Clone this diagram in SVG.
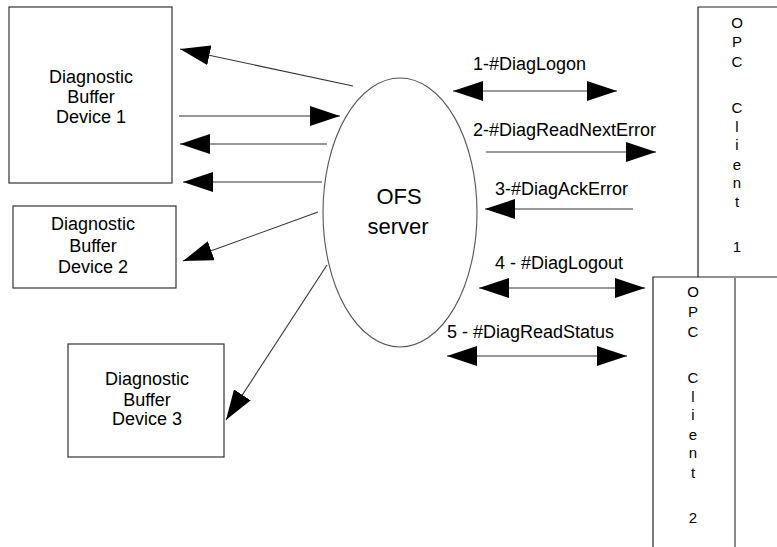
<svg xmlns="http://www.w3.org/2000/svg" width="777" height="547" viewBox="0 0 777 547">
<defs>
<marker id="ah" viewBox="0 0 30 20" refX="30" refY="10" markerWidth="30" markerHeight="20" markerUnits="userSpaceOnUse" orient="auto-start-reverse">
<path d="M0,0 L30,10 L0,20 z" fill="#000"/>
</marker>
<style>
.box{fill:#fff;stroke:#333;stroke-width:1.2}
.lbl{font-family:"Liberation Sans",Arial,sans-serif;font-size:18px;fill:#000}
.ctr{text-anchor:middle}
.cl{font-family:"Liberation Sans",Arial,sans-serif;font-size:15px;fill:#000;text-anchor:middle}
.big{font-family:"Liberation Sans",Arial,sans-serif;font-size:22px;fill:#000;text-anchor:middle}
.con{stroke:#333;stroke-width:1.1;fill:none}
.one{marker-end:url(#ah)}
.two{marker-start:url(#ah);marker-end:url(#ah)}
</style>
</defs>
<rect width="777" height="547" fill="#fff"/>

<g id="dev1">
<rect class="box" x="9" y="7" width="163" height="176"/>
<text class="lbl ctr" x="91" y="83">Diagnostic</text>
<text class="lbl ctr" x="91" y="103">Buffer</text>
<text class="lbl ctr" x="91" y="123">Device 1</text>
</g>

<g id="dev2">
<rect class="box" x="13" y="206" width="163" height="82"/>
<text class="lbl ctr" x="93" y="230">Diagnostic</text>
<text class="lbl ctr" x="93" y="252">Buffer</text>
<text class="lbl ctr" x="93" y="273">Device 2</text>
</g>

<g id="dev3">
<rect class="box" x="68" y="344" width="156" height="113"/>
<text class="lbl ctr" x="147" y="385">Diagnostic</text>
<text class="lbl ctr" x="147" y="406">Buffer</text>
<text class="lbl ctr" x="147" y="425">Device 3</text>
</g>

<g id="ofs">
<ellipse cx="400" cy="212.5" rx="77" ry="134.5" fill="#fff" stroke="#555" stroke-width="1.1"/>
<text class="big" x="399" y="204">OFS</text>
<text class="big" x="398" y="234">server</text>
</g>

<g id="client1">
<path d="M698,277 L698,7 L777,7" fill="none" stroke="#222" stroke-width="1.2"/>
<text class="cl" x="737" y="28">O</text>
<text class="cl" x="737" y="47">P</text>
<text class="cl" x="737" y="67">C</text>
<text class="cl" x="737" y="113">C</text>
<text class="cl" x="737" y="132">l</text>
<text class="cl" x="737" y="150">i</text>
<text class="cl" x="737" y="170">e</text>
<text class="cl" x="737" y="188">n</text>
<text class="cl" x="737" y="207">t</text>
<text class="cl" x="737" y="252">1</text>
</g>

<g id="client2">
<path d="M653,547 L653,277 L777,277" fill="none" stroke="#222" stroke-width="1.2"/>
<line x1="735" y1="277" x2="735" y2="547" stroke="#888" stroke-width="2"/>
<text class="cl" x="693" y="297">O</text>
<text class="cl" x="693" y="317">P</text>
<text class="cl" x="693" y="337">C</text>
<text class="cl" x="693" y="383">C</text>
<text class="cl" x="693" y="402">l</text>
<text class="cl" x="693" y="420">i</text>
<text class="cl" x="693" y="440">e</text>
<text class="cl" x="693" y="458">n</text>
<text class="cl" x="693" y="478">t</text>
<text class="cl" x="693" y="523">2</text>
</g>

<g id="connectors">
<line class="con one" x1="353" y1="86" x2="180" y2="49"/>
<line class="con one" x1="179" y1="116" x2="340" y2="116"/>
<line class="con one" x1="327" y1="144" x2="180" y2="144"/>
<line class="con one" x1="322" y1="182" x2="183" y2="182"/>
<line class="con one" x1="318" y1="212" x2="183" y2="261"/>
<line class="con one" x1="327" y1="265" x2="226" y2="420"/>

<line class="con two" x1="453" y1="91" x2="617" y2="91"/>
<line class="con one" x1="486" y1="152" x2="656" y2="152"/>
<line class="con one" x1="633" y1="209" x2="485" y2="209"/>
<line class="con two" x1="479" y1="288" x2="645" y2="288"/>
<line class="con two" x1="447" y1="356" x2="627" y2="356"/>

<text class="lbl" x="473" y="70">1-#DiagLogon</text>
<text class="lbl" x="473" y="136">2-#DiagReadNextError</text>
<text class="lbl" x="495" y="195">3-#DiagAckError</text>
<text class="lbl" x="495" y="269">4 - #DiagLogout</text>
<text class="lbl" x="447" y="338">5 - #DiagReadStatus</text>
</g>
</svg>
